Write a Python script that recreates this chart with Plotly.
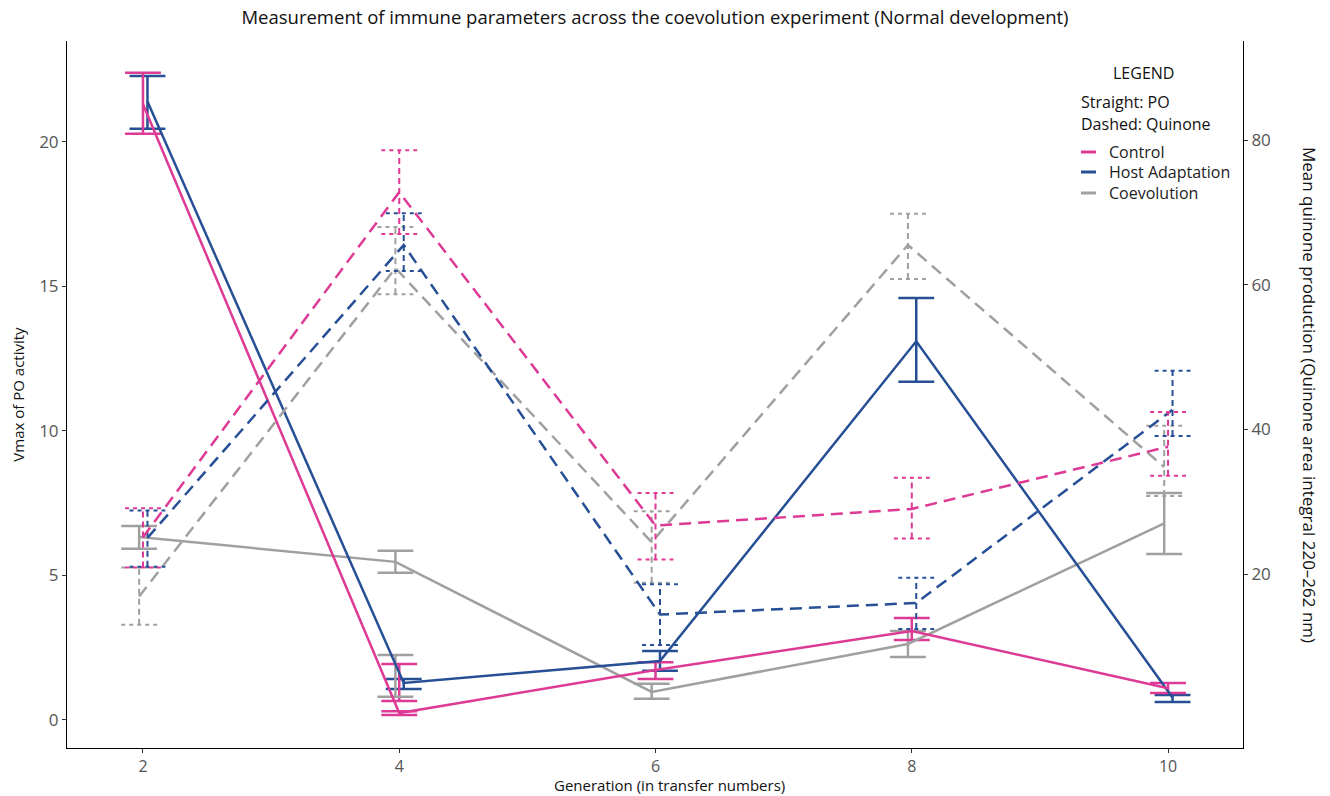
import plotly.graph_objects as go

# ---------------- data ----------------
generations = [2, 4, 6, 8, 10]
groups = ["Control", "Host Adaptation", "Coevolution"]

# PO activity (Vmax), left axis
control_po = [21.3, 0.24, 1.73, 3.08, 1.10]
control_po_lo = [20.28, 0.17, 1.42, 2.77, 0.93]
control_po_hi = [22.39, 0.30, 2.00, 3.53, 1.28]

host_po = [21.4, 1.28, 2.04, 13.1, 0.78]
host_po_lo = [20.45, 1.07, 1.70, 11.7, 0.62]
host_po_hi = [22.28, 1.42, 2.39, 14.6, 0.86]

coev_po = [6.33, 5.47, 0.97, 2.63, 6.80]
coev_po_lo = [5.92, 5.09, 0.73, 2.18, 5.74]
coev_po_hi = [6.71, 5.85, 1.25, 3.08, 7.85]

# additional PO error bars visible at generation 4
extra_po_group = ["Control", "Coevolution"]
extra_po_gen = [4, 4]
extra_po_lo = [0.66, 0.80]
extra_po_hi = [1.94, 2.25]

# Quinone production, right axis
control_q = [25.1, 72.8, 26.7, 29.0, 37.6]
control_q_lo = [20.9, 67.0, 22.0, 24.9, 33.6]
control_q_hi = [29.1, 78.6, 31.2, 33.3, 42.4]

host_q = [25.0, 65.5, 14.4, 16.0, 42.7]
host_q_lo = [21.0, 61.9, 10.2, 12.4, 39.1]
host_q_hi = [28.8, 69.9, 18.6, 19.5, 48.1]

coev_q = [16.9, 62.3, 24.4, 65.5, 34.8]
coev_q_lo = [13.0, 58.7, 18.8, 60.8, 30.8]
coev_q_hi = [20.9, 68.0, 28.7, 69.8, 40.5]

x_ticks = [2, 4, 6, 8, 10]
left_ticks = [0, 5, 10, 15, 20]
right_ticks = [20, 40, 60, 80]

# ---------------- styling ----------------
colors = {"Control": "#DD3A96", "Host Adaptation": "#274F95", "Coevolution": "#A0A0A0"}
dodge = {"Control": 0.0, "Host Adaptation": 0.035, "Coevolution": -0.03}
cap = 0.14
FONT = "Open Sans, DejaVu Sans, sans-serif"

po = {"Control": (control_po, control_po_lo, control_po_hi),
      "Host Adaptation": (host_po, host_po_lo, host_po_hi),
      "Coevolution": (coev_po, coev_po_lo, coev_po_hi)}
qn = {"Control": (control_q, control_q_lo, control_q_hi),
      "Host Adaptation": (host_q, host_q_lo, host_q_hi),
      "Coevolution": (coev_q, coev_q_lo, coev_q_hi)}


def bar_paths(xs, lo, hi):
    vx, vy, cx, cy = [], [], [], []
    for x, l, h in zip(xs, lo, hi):
        vx += [x, x, None]
        vy += [l, h, None]
        cx += [x - cap, x + cap, None, x - cap, x + cap, None]
        cy += [l, l, None, h, h, None]
    return vx, vy, cx, cy


fig = go.Figure()
order = ["Coevolution", "Host Adaptation", "Control"]

# Quinone (dashed, right axis)
for g in order:
    vals, lo, hi = qn[g]
    xs = [x + dodge[g] for x in generations]
    vx, vy, cx, cy = bar_paths(xs, lo, hi)
    fig.add_trace(go.Scatter(x=vx, y=vy, mode="lines", yaxis="y2", showlegend=False,
                             line=dict(color=colors[g], width=2, dash="6px,4px"), hoverinfo="skip"))
    fig.add_trace(go.Scatter(x=cx, y=cy, mode="lines", yaxis="y2", showlegend=False,
                             line=dict(color=colors[g], width=2, dash="4px,4px"), hoverinfo="skip"))
    fig.add_trace(go.Scatter(x=xs, y=vals, mode="lines", yaxis="y2", showlegend=False,
                             line=dict(color=colors[g], width=2.5, dash="12px,7px"), name=g + " (Quinone)"))

# PO (solid, left axis)
for g in order:
    vals, lo, hi = po[g]
    xs = [x + dodge[g] for x in generations]
    vx, vy, cx, cy = bar_paths(xs, lo, hi)
    fig.add_trace(go.Scatter(x=vx + [None] + cx, y=vy + [None] + cy, mode="lines", showlegend=False,
                             line=dict(color=colors[g], width=2.5), hoverinfo="skip"))

for g, gen, l, h in zip(extra_po_group, extra_po_gen, extra_po_lo, extra_po_hi):
    vx, vy, cx, cy = bar_paths([gen + dodge[g]], [l], [h])
    fig.add_trace(go.Scatter(x=vx + [None] + cx, y=vy + [None] + cy, mode="lines", showlegend=False,
                             line=dict(color=colors[g], width=2.5), hoverinfo="skip"))

for g in order:
    vals, lo, hi = po[g]
    xs = [x + dodge[g] for x in generations]
    fig.add_trace(go.Scatter(x=xs, y=vals, mode="lines", name=g + " (PO)", showlegend=False,
                             line=dict(color=colors[g], width=2.5)))

# ---------------- layout ----------------
W, H = 1330, 796
L, R, T, B = 67, 87, 41, 48
pw, ph = W - L - R, H - T - B


def px(x):
    return (x - L) / pw


def py(y):
    return 1 - (y - T) / ph


axis_common = dict(showgrid=False, zeroline=False, showline=True, linecolor="black", linewidth=1,
                   ticks="outside", ticklen=4, tickcolor="#333", automargin=False,
                   tickfont=dict(size=17, color="#555", family=FONT))

annotations = [
    dict(text="LEGEND", x=px(1143), y=py(73), xanchor="center", font=dict(size=16, color="#111")),
    dict(text="Straight: PO", x=px(1079), y=py(102), xanchor="left", font=dict(size=16, color="#111")),
    dict(text="Dashed: Quinone", x=px(1079), y=py(124), xanchor="left", font=dict(size=16, color="#111")),
    dict(text="Mean quinone production (Quinone area integral 220–262 nm)", x=px(1310), y=py(395),
         textangle=90, xanchor="center", font=dict(size=17, color="#111")),
    dict(text="Generation (in transfer numbers)", x=px(669), y=py(785), xanchor="center",
         font=dict(size=15, color="#111")),
]
shapes = []
legend_y = [152, 172, 193]
for g, yy in zip(groups, legend_y):
    annotations.append(dict(text=g, x=px(1107), y=py(yy), xanchor="left", font=dict(size=16, color="#222")))
    shapes.append(dict(type="line", xref="paper", yref="paper", x0=px(1081), x1=px(1096),
                       y0=py(yy), y1=py(yy), line=dict(color=colors[g], width=3)))
for a in annotations:
    a.update(xref="paper", yref="paper", showarrow=False, yanchor="middle")

x_axis = dict(axis_common)
x_axis["tickfont"] = dict(size=16, color="#555", family=FONT)

fig.update_layout(
    width=W, height=H,
    margin=dict(l=L, r=R, t=T, b=B, autoexpand=False),
    paper_bgcolor="white", plot_bgcolor="white",
    font=dict(family=FONT, color="#222"),
    title=dict(text="Measurement of immune parameters across the coevolution experiment (Normal development)",
               x=0.5, xref="paper", y=1 - 18 / H, yanchor="middle", font=dict(size=18.5, color="#111")),
    xaxis=dict(range=[1.407, 10.585], tickvals=x_ticks, **x_axis),
    yaxis=dict(range=[-0.97, 23.49], tickvals=left_ticks, **axis_common,
               title=dict(text="Vmax of PO activity", standoff=10, font=dict(size=15, color="#111"))),
    yaxis2=dict(range=[-4.05, 93.7], tickvals=right_ticks, overlaying="y", side="right", **axis_common),
    showlegend=False,
    annotations=annotations,
    shapes=shapes,
)

fig.write_html("out.html")
